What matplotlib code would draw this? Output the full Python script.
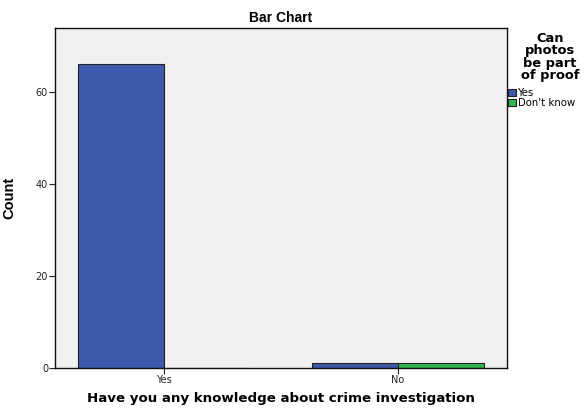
import numpy as np
import matplotlib.pyplot as plt
from matplotlib.patches import Patch

# Data
categories = ['Yes', 'No']
yes_counts = [66, 1]
dont_know_counts = [0, 1]
series_names = ['Yes', "Don't know"]

blue = '#3e59ab'
green = '#2eb84c'

plt.rcParams['font.family'] = ['DejaVu Sans']

fig = plt.figure(figsize=(5.88, 4.08), dpi=100)
ax = fig.add_axes([55 / 588, 40 / 408, 452 / 588, 340 / 408])
ax.set_facecolor('#f0f0f0')

x = np.arange(len(categories))
w = 0.367
ax.bar(x - w / 2, yes_counts, w, color=blue, edgecolor='#222222', linewidth=0.8)
ax.bar(x + w / 2, dont_know_counts, w, color=green, edgecolor='#222222', linewidth=0.8)

ax.set_xlim(-0.466, 1.466)
ax.set_ylim(0, 73.92)
ax.set_xticks(x)
ax.set_xticklabels(categories)
ax.set_yticks([0, 20, 40, 60])
ax.tick_params(labelsize=7, length=4, width=0.8, pad=1, colors='#222222')
for s in ax.spines.values():
    s.set_linewidth(1.0)
    s.set_color('#111111')

ax.set_xlabel('Have you any knowledge about crime investigation',
              fontsize=9.6, fontweight='bold', labelpad=5)
ax.set_ylabel('Count', fontsize=10.5, fontweight='bold', labelpad=14,
              family='Liberation Sans')
ax.set_title('Bar Chart', fontsize=10, fontweight='bold', pad=4,
             family='Liberation Sans')

# legend title drawn as centred text, entries as a plain legend
fig.text(550 / 588, 1 - 32 / 408, 'Can\nphotos\nbe part\nof proof',
         ha='center', va='top', multialignment='center',
         fontsize=9.4, fontweight='bold', linespacing=0.93)

handles = [Patch(facecolor=blue, edgecolor='#222222', linewidth=0.8),
           Patch(facecolor=green, edgecolor='#222222', linewidth=0.8)]
fig.legend(handles, series_names, loc='upper left',
           bbox_to_anchor=(508 / 588, 1 - 88 / 408),
           frameon=False, fontsize=7.3, handlelength=0.8, handleheight=0.8,
           handletextpad=0.2, borderpad=0.0, borderaxespad=0.0,
           labelspacing=0.0)

fig.savefig('out.png', dpi=100)
